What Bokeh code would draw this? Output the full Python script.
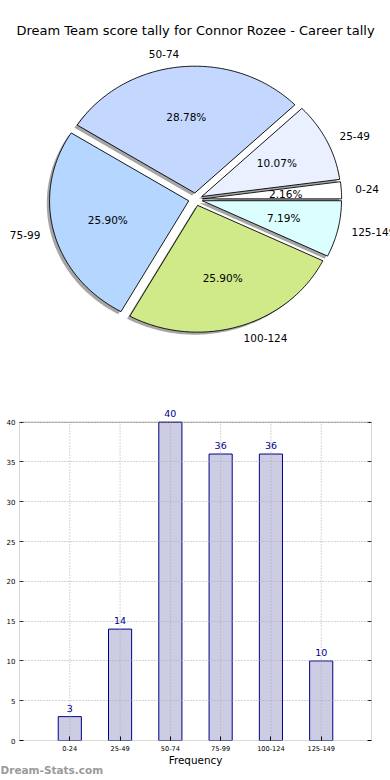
import numpy as np
from bokeh.plotting import figure
from bokeh.models import (ColumnDataSource, Range1d, FactorRange, Label, LabelSet,
                          FixedTicker, BoxAnnotation, Title, LinearAxis)
from bokeh.embed import file_html
from bokeh.resources import INLINE
from bokeh.core.properties import value

# ---------------- data ----------------
title_text = "Dream Team score tally for Connor Rozee - Career tally"
categories = ["0-24", "25-49", "50-74", "75-99", "100-124", "125-149"]
counts = [3, 14, 40, 36, 36, 10]
pie_colors = ["#ffffff", "#eaf0ff", "#c4d8ff", "#b4d6ff", "#d0ea8a", "#dbfeff"]
y_ticks = [0, 5, 10, 15, 20, 25, 30, 35, 40]
x_label = "Frequency"
watermark = "Dream-Stats.com"

FONT = "DejaVu Sans"

# ---------------- pie ----------------
W = 390
H1 = 400
RX, RY = 139.2, 126.8      # pixels per unit radius (horizontal / vertical)
CX, CY = 195.0, 198.8      # pie centre in figure pixels (from top-left)
explode = 0.05

pie = figure(width=W, height=H1, title=None,
             x_range=Range1d(-CX / RX, (W - CX) / RX),
             y_range=Range1d(-(H1 - CY) / RY, CY / RY),
             x_axis_type=None, y_axis_type=None,
             output_backend="svg", toolbar_location=None, min_border=0)
pie.grid.visible = False
pie.outline_line_color = None

total = float(sum(counts))
fracs = np.array(counts) / total
edges = np.concatenate([[0.0], np.cumsum(fracs)]) * 2 * np.pi

xs, ys, sxs, sys_ = [], [], [], []
lab_x, lab_y, lab_align, pct_x, pct_y, pct_txt = [], [], [], [], [], []
for i in range(len(counts)):
    t1, t2 = edges[i], edges[i + 1]
    mid = 0.5 * (t1 + t2)
    ox, oy = explode * np.cos(mid), explode * np.sin(mid)
    n = max(6, int(np.degrees(t2 - t1)) + 2)
    th = np.linspace(t1, t2, n)
    px = np.concatenate([[ox], ox + np.cos(th), [ox]])
    py = np.concatenate([[oy], oy + np.sin(th), [oy]])
    xs.append(list(px))
    ys.append(list(py))
    sxs.append(list(px - 0.02))
    sys_.append(list(py - 0.02))
    lab_x.append(ox + 1.1 * np.cos(mid))
    lab_y.append(oy + 1.1 * np.sin(mid))
    lab_align.append("left" if np.cos(mid) > 0 else "right")
    pct_x.append(ox + 0.6 * np.cos(mid))
    pct_y.append(oy + 0.6 * np.sin(mid))
    pct_txt.append("%.2f%%" % (100.0 * fracs[i]))

pie.patches(sxs, sys_, fill_color="#4d4d4d", fill_alpha=0.5, line_color=None)
pie.patches(xs, ys, fill_color=pie_colors, line_color="black", line_width=0.9)

lab_src = ColumnDataSource(dict(x=lab_x, y=lab_y, t=categories, a=lab_align))
pie.text(x="x", y="y", text="t", text_align="a", text_baseline="middle",
         text_font=value(FONT), text_font_size="10.5px", text_color="black",
         source=lab_src)
pct_src = ColumnDataSource(dict(x=pct_x, y=pct_y, t=pct_txt))
pie.text(x="x", y="y", text="t", text_align="center", text_baseline="middle",
         text_font=value(FONT), text_font_size="10.5px", text_color="black",
         source=pct_src)

pie.add_layout(Label(x=W / 2, y=H1 - 30, x_units="screen", y_units="screen",
                     text=title_text, text_align="center", text_baseline="middle",
                     text_font=FONT, text_font_size="13px", text_color="black"))

# ---------------- bar ----------------
H2 = 380
PX_PER_UNIT = 318.3 / 40.0
TOP_PAD = 17.7                       # room above the frame box for the value labels
bar = figure(width=W, height=H2, title=None,
             x_range=FactorRange(factors=categories, range_padding=0.5,
                                 range_padding_units="absolute"),
             y_range=Range1d(0, y_ticks[-1] + TOP_PAD / PX_PER_UNIT),
             output_backend="svg", toolbar_location=None,
             min_border_left=19, min_border_right=19,
             min_border_top=4, min_border_bottom=40)
bar.outline_line_color = None

bsrc = ColumnDataSource(dict(cat=categories, count=counts, lab=[str(c) for c in counts],
                             g0=[y_ticks[0]] * len(categories),
                             g1=[y_ticks[-1]] * len(categories)))
bar.vbar(x="cat", top="count", width=0.46, source=bsrc,
         fill_color="#ccccE3", line_color="#00008b", line_width=1)

# vertical dotted grid lines at category centres, limited to the axes box
bar.segment(x0="cat", y0="g0", x1="cat", y1="g1", source=bsrc,
            line_color="#aaaaaa", line_dash="1 2", line_width=1)
bar.xgrid.visible = False

# axes box
bar.add_layout(BoxAnnotation(bottom=y_ticks[0], top=y_ticks[-1], fill_color=None,
                             line_color="black", line_width=1, level="overlay"))

bar.add_layout(LabelSet(x="cat", y="count", text="lab", source=bsrc,
                        text_align="center", text_baseline="alphabetic", y_offset=5,
                        text_font=value(FONT), text_font_size="9.5px",
                        text_color="#00008b"))

bar.yaxis.ticker = FixedTicker(ticks=y_ticks)
right_ax = LinearAxis(ticker=FixedTicker(ticks=y_ticks),
                      major_label_overrides={t: "" for t in y_ticks},
                      major_label_standoff=0)
bar.add_layout(right_ax, "right")
for ax in (bar.xaxis[0], bar.yaxis[0], right_ax):
    ax.axis_line_color = None
    ax.major_tick_in = 4
    ax.major_tick_out = 0
    ax.minor_tick_in = 0
    ax.minor_tick_out = 0
    ax.major_tick_line_color = "black"
    ax.major_label_text_font = FONT
    ax.major_label_text_color = "black"
right_ax.major_label_text_font_size = "7px"
bar.yaxis[0].major_label_text_font_size = "7px"
bar.yaxis[0].major_label_standoff = 4
bar.xaxis.major_label_text_font_size = "6.6px"
bar.xaxis.major_label_standoff = 5
bar.xaxis.axis_label = x_label
bar.xaxis.axis_label_text_font = FONT
bar.xaxis.axis_label_text_font_size = "10.4px"
bar.xaxis.axis_label_text_font_style = "normal"
bar.xaxis.axis_label_standoff = 0
bar.xaxis.axis_label_text_color = "black"

g = bar.ygrid[0]
g.ticker = FixedTicker(ticks=y_ticks)
g.grid_line_color = "#aaaaaa"
g.grid_line_dash = "1 2"
g.grid_line_width = 1
g.level = "guide"

bar.add_layout(Title(text=watermark, align="left", offset=-19, standoff=-13,
                     text_font=FONT, text_font_size="10.5px", text_font_style="bold",
                     text_color="#9a9a9a"), "below")

open("out.html", "w").write(file_html([pie, bar], INLINE))
